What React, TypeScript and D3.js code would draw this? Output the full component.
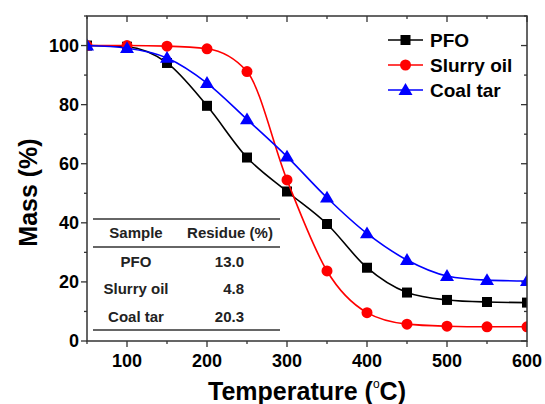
import * as d3 from 'd3';
import React from 'react';

// temperatures (°C) and mass (%)
const temps = [50, 100, 150, 200, 250, 300, 350, 400, 450, 500, 550, 600];
const pfo = [100, 99.6, 94.1, 79.6, 62.1, 50.6, 39.6, 24.8, 16.4, 13.9, 13.2, 13.0];
const slurryOil = [100, 100, 99.8, 98.9, 91.2, 54.5, 23.7, 9.6, 5.7, 5.0, 4.8, 4.8];
const coalTar = [100, 99.1, 95.8, 87.3, 75.0, 62.4, 48.5, 36.4, 27.4, 22.0, 20.6, 20.3];

const seriesNames = ['PFO', 'Slurry oil', 'Coal tar'];
const seriesColors = ['#000000', '#ff0000', '#0000ff'];
const seriesMarkers = ['square', 'circle', 'triangle'];

// inset table
const tableSamples = ['PFO', 'Slurry oil', 'Coal tar'];
const tableResidue = ['13.0', '4.8', '20.3'];

const xMajor = [100, 200, 300, 400, 500, 600];
const xMinor = [50, 150, 250, 350, 450, 550];
const yMajor = [0, 20, 40, 60, 80, 100];
const yMinor = [10, 30, 50, 70, 90, 110];

const W = 545;
const H = 404;
const margin = { top: 16, right: 18, bottom: 63, left: 87 };
const font = 'Arial, "Liberation Sans", sans-serif';

function Marker({ type, x, y, color }: { type: string; x: number; y: number; color: string }) {
  if (type === 'square') return <rect x={x - 5} y={y - 5} width={10} height={10} fill={color} />;
  if (type === 'circle') return <circle cx={x} cy={y} r={5.5} fill={color} />;
  const s = 7;
  return <path d={`M${x},${y - s}L${x + s},${y + s * 0.7}L${x - s},${y + s * 0.7}Z`} fill={color} />;
}

export default function App() {
  const x = d3.scaleLinear().domain([50, 600]).range([margin.left, W - margin.right]);
  const y = d3.scaleLinear().domain([0, 110]).range([H - margin.bottom, margin.top]);

  const line = d3.line<number>()
    .x((d, i) => x(temps[i]))
    .y(d => y(d))
    .curve(d3.curveMonotoneX);

  const series = [pfo, slurryOil, coalTar];
  const x0 = x.range()[0], x1 = x.range()[1];
  const y0 = y.range()[0], y1 = y.range()[1];
  const axisColor = '#333';

  // table geometry
  const tLeft = 93, tRight = 280;
  const colSample = 136, colResidueRight = 244, colHeader = 230;
  const tTop = 219, tHeadLine = 247, tBottom = 330;
  const rowY = [262, 289, 317];

  return (
    <svg width={W} height={H} style={{ position: 'absolute', left: 0, top: 0, background: '#fff' }}
      fontFamily={font} fontWeight="bold">
      <defs>
        <clipPath id="plot">
          <rect x={x0} y={y1} width={x1 - x0} height={y0 - y1} />
        </clipPath>
      </defs>

      {/* ticks */}
      {xMajor.map(t => (
        <g key={'xm' + t} stroke={axisColor} strokeWidth={1.3}>
          <line x1={x(t)} x2={x(t)} y1={y0} y2={y0 + 6} />
          <line x1={x(t)} x2={x(t)} y1={y1} y2={y1 + 6} />
        </g>
      ))}
      {xMinor.map(t => (
        <g key={'xn' + t} stroke={axisColor} strokeWidth={1.3}>
          <line x1={x(t)} x2={x(t)} y1={y0} y2={y0 + 3} />
          <line x1={x(t)} x2={x(t)} y1={y1} y2={y1 + 3} />
        </g>
      ))}
      {yMajor.map(t => (
        <g key={'ym' + t} stroke={axisColor} strokeWidth={1.3}>
          <line x1={x0 - 6} x2={x0} y1={y(t)} y2={y(t)} />
          <line x1={x1 - 6} x2={x1} y1={y(t)} y2={y(t)} />
        </g>
      ))}
      {yMinor.map(t => (
        <g key={'yn' + t} stroke={axisColor} strokeWidth={1.3}>
          <line x1={x0 - 3} x2={x0} y1={y(t)} y2={y(t)} />
          <line x1={x1 - 3} x2={x1} y1={y(t)} y2={y(t)} />
        </g>
      ))}

      {/* tick labels */}
      {xMajor.map(t => (
        <text key={'xl' + t} x={x(t)} y={y0 + 26} textAnchor="middle" fontSize={18}>{t}</text>
      ))}
      {yMajor.map(t => (
        <text key={'yl' + t} x={x0 - 8} y={y(t)} dy="0.36em" textAnchor="end" fontSize={18}>{t}</text>
      ))}

      {/* axis titles */}
      <text x={(x0 + x1) / 2} y={400} textAnchor="middle" fontSize={25}>
        Temperature (<tspan fontSize={12} fontWeight="normal" dy={-12}>o</tspan><tspan dy={12}>C)</tspan>
      </text>
      <text transform={`translate(37,${(y0 + y1) / 2 + 14}) rotate(-90)`} textAnchor="middle" fontSize={25}>
        Mass (%)
      </text>

      {/* inset table */}
      <g stroke="#333" strokeWidth={1.3}>
        <line x1={tLeft} x2={tRight} y1={tTop} y2={tTop} />
        <line x1={tLeft} x2={tRight} y1={tHeadLine} y2={tHeadLine} />
        <line x1={tLeft} x2={tRight} y1={tBottom} y2={tBottom} />
      </g>
      <g fontSize={15} fill="#222">
        <text x={colSample} y={(tTop + tHeadLine) / 2} dy="0.36em" textAnchor="middle">Sample</text>
        <text x={colHeader} y={(tTop + tHeadLine) / 2} dy="0.36em" textAnchor="middle">Residue (%)</text>
        {tableSamples.map((s, i) => (
          <text key={s} x={colSample} y={rowY[i]} dy="0.36em" textAnchor="middle">{s}</text>
        ))}
        {tableResidue.map((v, i) => (
          <text key={v} x={colResidueRight} y={rowY[i]} dy="0.36em" textAnchor="end">{v}</text>
        ))}
      </g>

      {/* curves */}
      <g clipPath="url(#plot)">
        {series.map((s, k) => (
          <g key={seriesNames[k]}>
            <path d={line(s) || ''} fill="none" stroke={seriesColors[k]} strokeWidth={1.6} />
            {s.map((v, i) => (
              <Marker key={i} type={seriesMarkers[k]} x={x(temps[i])} y={y(v)} color={seriesColors[k]} />
            ))}
          </g>
        ))}
      </g>

      {/* frame */}
      <rect x={x0} y={y1} width={x1 - x0} height={y0 - y1} fill="none" stroke={axisColor} strokeWidth={1.5} />

      {/* legend */}
      {seriesNames.map((n, k) => {
        const ly = 40 + k * 25;
        return (
          <g key={'lg' + n}>
            <line x1={388} x2={423} y1={ly} y2={ly} stroke={seriesColors[k]} strokeWidth={1.6} />
            <Marker type={seriesMarkers[k]} x={405.5} y={ly} color={seriesColors[k]} />
            <text x={430} y={ly} dy="0.36em" fontSize={19}>{n}</text>
          </g>
        );
      })}
    </svg>
  );
}
